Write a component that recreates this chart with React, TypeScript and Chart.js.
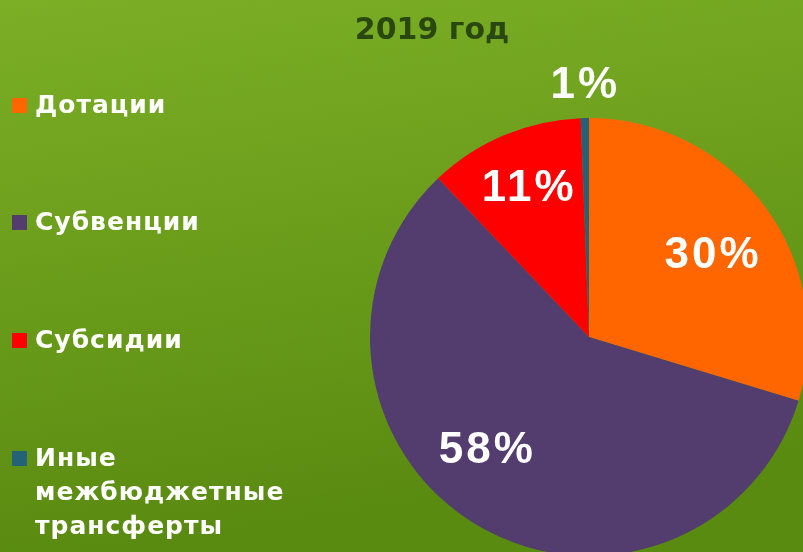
import React, { useEffect, useRef } from "react";
import { Chart, registerables } from "chart.js";

Chart.register(...registerables);

const categories = ["Дотации", "Субвенции", "Субсидии", "Иные межбюджетные трансферты"];
const legendLines = [["Дотации"], ["Субвенции"], ["Субсидии"], ["Иные", "межбюджетные", "трансферты"]];
const shares = [29.7, 58.2, 11.5, 0.6];
const percentLabels = ["30%", "58%", "11%", "1%"];
const sliceColors = ["#ff6600", "#533c6e", "#ff0000", "#246278"];
const titleText = "2019 год";

// label placement: angle shift (deg) and radial fraction of radius
const labelShift = [3.1, 10.4, 0.5, 0];
const labelRadial = [0.673, 0.70, 0.73, 1.146];

const bgPlugin = {
  id: "bg",
  beforeDraw(chart: any) {
    const { ctx, width, height } = chart;
    ctx.save();
    const g = ctx.createLinearGradient(0, 0, width * 0.1, height);
    g.addColorStop(0, "#7caf26");
    g.addColorStop(1, "#5a8b11");
    ctx.fillStyle = g;
    ctx.fillRect(0, 0, width, height);
    ctx.restore();
  },
};

const decorPlugin = {
  id: "decor",
  afterDatasetsDraw(chart: any) {
    const { ctx } = chart;
    const meta = chart.getDatasetMeta(0);
    ctx.save();
    // title
    ctx.fillStyle = "#2b4710";
    ctx.font = "bold 30px 'DejaVu Sans'";
    ctx.textAlign = "center";
    ctx.textBaseline = "middle";
    ctx.fillText(titleText, 432, 31);

    // percent labels
    ctx.fillStyle = "#ffffff";
    ctx.font = "bold 44px 'Liberation Sans'";
    (ctx as any).letterSpacing = "3px";
    meta.data.forEach((arc: any, i: number) => {
      const p = arc.getProps(["x", "y", "startAngle", "endAngle", "outerRadius"], true);
      const mid = (p.startAngle + p.endAngle) / 2 + (labelShift[i] * Math.PI) / 180;
      const r = p.outerRadius * labelRadial[i];
      ctx.fillText(percentLabels[i], p.x + Math.cos(mid) * r + 1, p.y + Math.sin(mid) * r);
    });

    // legend
    ctx.textAlign = "left";
    ctx.font = "bold 25px 'DejaVu Sans'";
    (ctx as any).letterSpacing = "1px";
    const rowY = [105, 222, 340, 458];
    legendLines.forEach((lines, i) => {
      ctx.fillStyle = sliceColors[i];
      ctx.fillRect(12, rowY[i] - 7, 15, 15);
      ctx.fillStyle = "#ffffff";
      lines.forEach((ln, j) => {
        ctx.fillText(ln, 35, rowY[i] + 1 + j * 34);
      });
    });
    ctx.restore();
  },
};

export default function App() {
  const ref = useRef<HTMLCanvasElement | null>(null);
  useEffect(() => {
    if (!ref.current) return;
    const chart = new Chart(ref.current, {
      type: "pie",
      data: {
        labels: categories,
        datasets: [
          {
            data: shares,
            backgroundColor: sliceColors,
            borderWidth: 0,
            clip: false as any,
          } as any,
        ],
      },
      options: {
        animation: false,
        responsive: true,
        maintainAspectRatio: false,
        radius: 219,
        layout: { padding: { left: 375, right: 0, top: 122, bottom: 0 } },
        plugins: {
          legend: { display: false },
          title: { display: false },
          tooltip: { enabled: false },
        },
      } as any,
      plugins: [bgPlugin, decorPlugin],
    });
    return () => chart.destroy();
  }, []);
  return (
    <div style={{ position: "fixed", left: 0, top: 0, width: 803, height: 552, overflow: "hidden" }}>
      <canvas ref={ref} />
    </div>
  );
}
